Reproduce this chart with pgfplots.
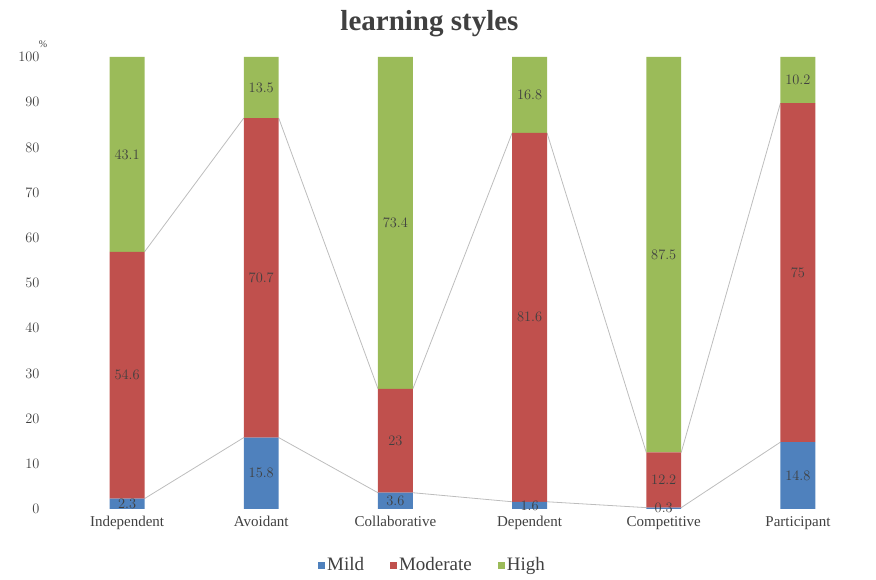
\documentclass[border=0pt]{standalone}
\usepackage{pgfplots}
\pgfplotsset{compat=1.18}
\usepackage{pgfplotstable}
\usepackage{fontspec}
\setmainfont{Liberation Serif}

\definecolor{cMild}{HTML}{4F81BD}
\definecolor{cMod}{HTML}{C0504D}
\definecolor{cHigh}{HTML}{9BBB59}
\definecolor{cGrid}{HTML}{E3E3E3}
\definecolor{cLine}{HTML}{BDBDBD}
\definecolor{cText}{HTML}{404040}

% percentage of students per learning style
\pgfplotstableread{
x mild moderate high
0 2.3 54.6 43.1
1 15.8 70.7 13.5
2 3.6 23 73.4
3 1.6 81.6 16.8
4 0.3 12.2 87.5
5 14.8 75 10.2
}\styles

\pgfplotsset{
  common/.style={
    scale only axis, width=805pt, height=452pt,
    xmin=-0.5, xmax=5.5, ymin=0, ymax=100,
    font=\rmfamily\fontsize{15}{18}\selectfont,
  }
}

\begin{document}
\begin{tikzpicture}
% background: grid and series lines
\begin{axis}[common,
  axis lines=none,
  ytick={0,10,...,100}, ymajorgrids, grid style={cGrid, line width=1pt},
  xtick=\empty, unbounded coords=jump,
  extra y ticks={0}, extra y tick style={grid style={cLine,line width=1pt}},
]
% series lines joining the tops of the Mild segments
\addplot[cLine, line width=0.8pt] coordinates {
 (0.13,2.3) (0.87,15.8) (1.13,nan)
 (1.13,15.8) (1.87,3.6) (2.13,nan)
 (2.13,3.6) (2.87,1.6) (3.13,nan)
 (3.13,1.6) (3.87,0.3) (4.13,nan)
 (4.13,0.3) (4.87,14.8)};
% series lines joining the tops of the Moderate segments
\addplot[cLine, line width=0.8pt] coordinates {
 (0.13,56.9) (0.87,86.5) (1.13,nan)
 (1.13,86.5) (1.87,26.6) (2.13,nan)
 (2.13,26.6) (2.87,83.2) (3.13,nan)
 (3.13,83.2) (3.87,12.5) (4.13,nan)
 (4.13,12.5) (4.87,89.8)};
\end{axis}

\begin{axis}[common,
  clip=false,
  ybar stacked, bar width=0.26,
  axis line style={draw=none},
  tick style={draw=none},
  xtick=data,
  xticklabels={Independent,Avoidant,Collaborative,Dependent,Competitive,Participant},
  xticklabel style={text=cText, yshift=-4pt},
  ytick={0,10,...,100},
  yticklabel style={text=cText, xshift=-17pt},
  point meta=rawy,
  nodes near coords={\pgfmathprintnumber{\pgfplotspointmeta}},
  every node near coord/.append style={
    anchor=center, text=cText, font=\rmfamily\fontsize{14}{16}\selectfont},
  legend style={at={(0.5,-0.124)}, anchor=center, xshift=-30pt,
    draw=none, legend columns=-1, text=cText,
    font=\rmfamily\fontsize{19}{22}\selectfont,
    /tikz/every even column/.append style={column sep=24pt}},
  legend image code/.code={\fill[#1] (0pt,-3.5pt) rectangle (7pt,3.5pt);},
  title={learning styles},
  title style={font=\rmfamily\fontsize{29}{32}\selectfont\bfseries, text=cText,
    at={(0.5,1)}, anchor=center, yshift=27pt, xshift=-33pt},
]
\addplot[fill=cMild, draw=none] table[x=x, y=mild] {\styles};
\addplot[fill=cMod, draw=none] table[x=x, y=moderate] {\styles};
\addplot[fill=cHigh, draw=none] table[x=x, y=high] {\styles};
\legend{Mild,Moderate,High}
\node[text=cText, font=\rmfamily\fontsize{10}{11}\selectfont, anchor=center]
  at (rel axis cs:0,1) [xshift=-17pt, yshift=13pt] {\%};
\end{axis}
\pgfresetboundingbox
\path[use as bounding box] (-60pt,-71pt) rectangle (816pt,509pt);
\end{tikzpicture}
\end{document}
